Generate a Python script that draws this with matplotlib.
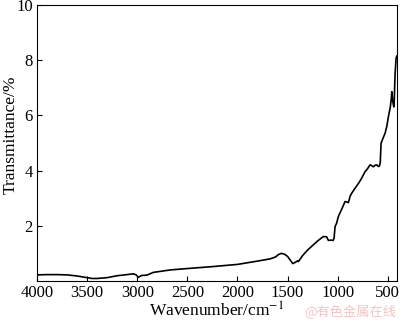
import matplotlib.pyplot as plt
import numpy as np

plt.rcParams['font.family'] = ['Liberation Serif', 'DejaVu Serif']
plt.rcParams['mathtext.fontset'] = 'stix'

# wavenumber (cm-1) and transmittance (%)
wavenumber = [4000, 3900, 3800, 3700, 3600, 3500, 3450, 3400, 3300, 3200,
              3100, 3040, 3010, 2990, 2970, 2955, 2905, 2840, 2670, 2500,
              2250, 2000, 1800, 1675, 1620, 1590, 1560, 1530, 1500, 1470,
              1448, 1420, 1400, 1392, 1350, 1300, 1243, 1200, 1143, 1110,
              1093, 1070, 1045, 1036, 1026, 1010, 993, 960, 926, 905,
              893, 875, 860, 827, 790, 760, 727, 700, 677, 660,
              644, 625, 610, 595, 583, 575, 567, 545, 527, 510,
              494, 475, 465, 460, 450, 440, 437, 430, 427, 417, 411]
transmittance = [0.22, 0.23, 0.23, 0.22, 0.18, 0.12, 0.09, 0.09, 0.12, 0.19,
                 0.23, 0.26, 0.22, 0.13, 0.17, 0.20, 0.21, 0.31, 0.40, 0.45,
                 0.52, 0.60, 0.72, 0.80, 0.87, 0.96, 1.00, 0.97, 0.89, 0.74,
                 0.63, 0.68, 0.73, 0.70, 0.92, 1.12, 1.31, 1.45, 1.61, 1.60,
                 1.47, 1.48, 1.47, 1.55, 1.97, 2.10, 2.34, 2.60, 2.88, 2.86,
                 2.84, 3.08, 3.18, 3.36, 3.55, 3.73, 3.96, 4.08, 4.21, 4.18,
                 4.14, 4.20, 4.21, 4.15, 4.17, 4.30, 4.99, 5.20, 5.35, 5.60,
                 5.95, 6.30, 6.60, 6.86, 6.50, 6.31, 6.35, 7.20, 7.52, 8.07, 8.15]

x_ticks = [4000, 3500, 3000, 2500, 2000, 1500, 1000, 500]
y_ticks = [2, 4, 6, 8, 10]

fig = plt.figure(figsize=(4, 3.2), dpi=100)
ax = fig.add_axes([0.0925, 0.122, 0.8995, 0.862])

ax.plot(wavenumber, transmittance, color='black', lw=1.2)

ax.set_xlim(4000, 410)
ax.set_ylim(0, 10)
ax.set_xticks(x_ticks)
ax.set_yticks(y_ticks)
ax.tick_params(direction='in', length=3.5, width=0.8, labelsize=12)
ax.tick_params(axis='x', pad=3)
ax.tick_params(axis='y', pad=3)
for s in ax.spines.values():
    s.set_linewidth(0.8)

ax.set_xlabel('Wavenumber/cm$^{-1}$', fontsize=12.5, labelpad=0)
ax.set_ylabel('Transmittance/%', fontsize=12.5)
ax.yaxis.set_label_coords(-0.05, 0.53)

fig.text(0.99, 0.026, '@有色金属在线', color='#f4c4c4', fontsize=9.5, ha='right',
         va='center', family=['Noto Sans CJK SC', 'DejaVu Sans'])

plt.savefig('out.png', dpi=100)
